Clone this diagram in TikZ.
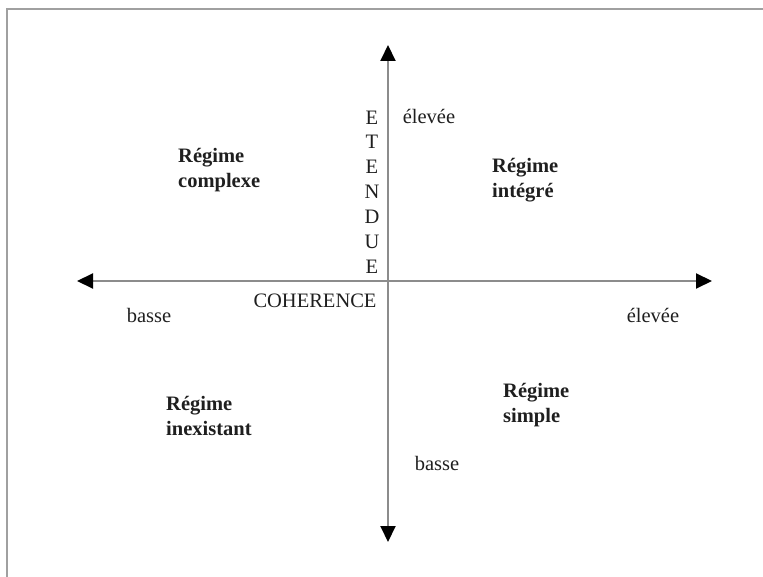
\documentclass[tikz,border=0pt]{standalone}
\usepackage{fontspec}
\setmainfont{Liberation Serif}
\usetikzlibrary{arrows.meta}
\definecolor{axisgray}{HTML}{8C8C8C}
\definecolor{framegray}{HTML}{A0A0A0}
\begin{document}
\begin{tikzpicture}[x=1pt,y=-1pt,
  lbl/.style={font=\fontsize{20.5}{25}\selectfont, inner sep=0pt, text=black!88},
  regime/.style={lbl, font=\fontsize{20.5}{25}\selectfont\bfseries, align=left, anchor=north west},
  axis/.style={draw=axisgray, line width=2pt,
    {Triangle[length=16pt,width=15pt,color=black]}-{Triangle[length=16pt,width=15pt,color=black]}},
  frameline/.style={draw=framegray, line width=2pt}]
\useasboundingbox (0,0) rectangle (763,577);
% frame
\coordinate (ftr) at (763,9);
\coordinate (ftl) at (7,9);
\coordinate (fbl) at (7,577);
\draw[frameline] (ftr) -- (ftl) -- (fbl);
% axes
\coordinate (xl) at (77,281);
\coordinate (xr) at (712,281);
\coordinate (yt) at (388,45);
\coordinate (yb) at (388,542);
\draw[axis] (xl) -- (xr);
\draw[axis] (yb) -- (yt);
% axis labels
\node[lbl, align=center, anchor=north, font=\fontsize{20.5}{24.83}\selectfont] (etendue) at (372,110.4) {E\\T\\E\\N\\D\\U\\E};
\node[lbl, anchor=base] (coherence) at (315,308) {COHERENCE};
\node[lbl, anchor=base] (hautv) at (429,124) {élevée};
\node[lbl, anchor=base] (bassev) at (437,470) {basse};
\node[lbl, anchor=base] (basseh) at (149,323) {basse};
\node[lbl, anchor=base] (hauth) at (653,323) {élevée};
% regimes
\node[regime] (complexe) at (178,147.6) {Régime\\complexe};
\node[regime] (integre) at (492,157.6) {Régime\\intégré};
\node[regime] (inexistant) at (166,395.6) {Régime\\inexistant};
\node[regime] (simple) at (503,382.6) {Régime\\simple};
\end{tikzpicture}
\end{document}
